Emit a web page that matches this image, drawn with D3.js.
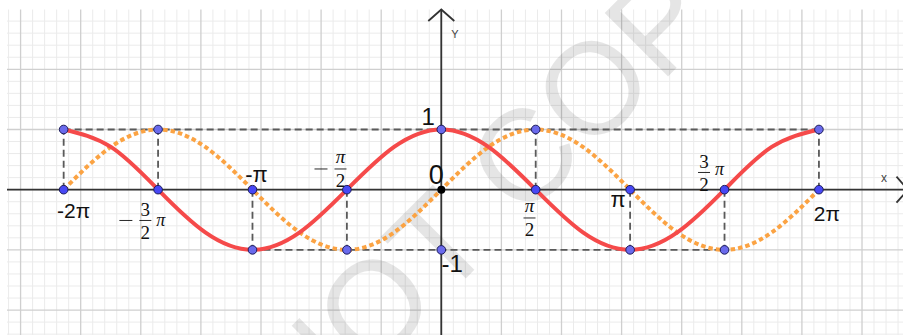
<!DOCTYPE html>
<html><head><meta charset="utf-8">
<script src="https://cdn.jsdelivr.net/npm/d3@7"></script>
<style>body{margin:0;background:#fff;} svg{display:block;}</style>
</head><body>
<svg id="c" width="903" height="335"></svg>
<script>
// ---------- data ----------
// x positions in multiples of pi
const xPi = [-2,-1.75,-1.5,-1.25,-1,-0.75,-0.5,-0.25,0,0.25,0.5,0.75,1,1.25,1.5,1.75,2];
const cosValues = [1,0.71,0,-0.71,-1,-0.71,0,0.71,1,0.71,0,-0.71,-1,-0.71,0,0.71,1];
const sinValues = [0,0.71,1,0.71,0,-0.71,-1,-0.71,0,0.71,1,0.71,0,-0.71,-1,-0.71,0];
// marked points (x in multiples of pi, y)
const markX = [-2,-2,-1.5,-1.5,-1,-1,-0.5,-0.5,0,0,0.5,0.5,1,1,1.5,1.5,2,2];
const markY = [1,0,1,0,0,-1,0,-1,1,-1,1,0,0,-1,0,-1,1,0];
// dashed guides
const guideHy = [1,-1];
const guideHfrom = [-2,-1];
const guideHto = [2,1.5];
const guideVx = [-2,-1.5,-1,-0.5,0.5,1,1.5,2];
const guideVy = [1,1,-1,-1,1,-1,-1,1];
// tick labels
const piLabelX = [-2,-1,1,2];
const piLabelText = ["-2π","-π","π","2π"];
const fracX = [-1.5,-0.5,0.5,1.5];
const fracNeg = [true,true,false,false];
const fracNum = ["3","π","π","3"];
const fracDen = ["2","2","2","2"];
const fracPi = [true,false,false,true];
const yLabelVals = [1,-1];
const yLabelText = ["1","-1"];
const watermarkText = "DO NOT COPY";

(function(){
// ---------- layout ----------
const W = 903, H = 335;
const leftX = 7, topY = 9.5;
const x = d3.scaleLinear().domain([-7.226, 7.682]).range([leftX, W]);
const y = d3.scaleLinear().domain([-2.414, 2.993]).range([H, topY]);
const PI = Math.PI;
const svg = d3.select("#c");
const isMajor = d => Math.abs(d - Math.round(d)) < 1e-6;

// grid
const grid = svg.append("g");
const gx = d3.range(-36, 39).map(i => i * 0.2).filter(v => x(v) >= leftX && x(v) <= W);
const gy = d3.range(-12, 15).map(i => i * 0.2).filter(v => y(v) >= topY - 0.5 && y(v) <= H);
grid.selectAll(".mx").data(gx.filter(d => !isMajor(d))).join("line")
  .attr("x1", d => x(d)).attr("x2", d => x(d)).attr("y1", topY).attr("y2", H)
  .attr("stroke", "#ebebeb").attr("stroke-width", 1);
grid.selectAll(".my").data(gy.filter(d => !isMajor(d))).join("line")
  .attr("y1", d => y(d)).attr("y2", d => y(d)).attr("x1", leftX).attr("x2", W)
  .attr("stroke", "#ebebeb").attr("stroke-width", 1);
grid.selectAll(".Mx").data(gx.filter(isMajor)).join("line")
  .attr("x1", d => x(d)).attr("x2", d => x(d)).attr("y1", topY).attr("y2", H)
  .attr("stroke", "#cfcfcf").attr("stroke-width", 1.3);
grid.selectAll(".My").data(gy.filter(isMajor)).join("line")
  .attr("y1", d => y(d)).attr("y2", d => y(d)).attr("x1", leftX).attr("x2", W)
  .attr("stroke", "#cfcfcf").attr("stroke-width", 1.3);

// watermark
const wmG = svg.append("g");
const wm = wmG.append("text").text(watermarkText)
  .attr("font-family", "Liberation Sans, Arial, sans-serif")
  .attr("font-size", 130).attr("fill", "#000").attr("fill-opacity", 0.1);
try {
  const c4 = wm.node().getExtentOfChar(4), c8 = wm.node().getExtentOfChar(8);
  const d = (c8.x + c8.width/2) - (c4.x + c4.width/2);
  const fs = 130 * 309 / d;
  wm.attr("font-size", fs);
  const e = wm.node().getExtentOfChar(4);
  const cx = e.x + e.width/2, cy = -fs * 0.36;
  const a = -45 * PI / 180;
  const rx = cx*Math.cos(a) - cy*Math.sin(a), ry = cx*Math.sin(a) + cy*Math.cos(a);
  wmG.attr("transform", `translate(${373 - rx},${305 - ry}) rotate(-45)`);
} catch (err) {
  wmG.attr("transform", "translate(240,440) rotate(-45)");
}

// dashed guides
const guides = svg.append("g").attr("stroke", "#5a5a5a").attr("stroke-width", 1.8).attr("stroke-dasharray", "7,4");
guideHy.forEach((v, i) => {
  guides.append("line").attr("x1", x(guideHfrom[i]*PI)).attr("x2", x(guideHto[i]*PI))
    .attr("y1", y(v)).attr("y2", y(v));
});
guideVx.forEach((v, i) => {
  guides.append("line").attr("x1", x(v*PI)).attr("x2", x(v*PI))
    .attr("y1", y(0)).attr("y2", y(guideVy[i]));
});

// axes
const ax = svg.append("g").attr("stroke", "#333").attr("stroke-width", 1.8).attr("fill", "none");
ax.append("line").attr("x1", leftX).attr("x2", W).attr("y1", y(0)).attr("y2", y(0));
ax.append("line").attr("x1", x(0)).attr("x2", x(0)).attr("y1", topY).attr("y2", H);
ax.append("path").attr("d", `M${x(0)-13},${topY+11.5}L${x(0)},${topY}L${x(0)+13},${topY+11.5}`);
ax.append("path").attr("d", `M${W-6.5},${y(0)-13}L${W+5},${y(0)}L${W-6.5},${y(0)+13}`);
const sans = "Liberation Sans, Arial, sans-serif";
svg.append("text").text("Y").attr("x", x(0)+10).attr("y", 38).attr("font-family", sans).attr("font-size", 11).attr("fill", "#444");
svg.append("text").text("x").attr("x", 881).attr("y", 182).attr("font-family", sans).attr("font-size", 12).attr("fill", "#444");

// curves
const pts = (vals) => xPi.map((p, i) => [p, vals[i]]);
const line = d3.line().x(d => x(d[0]*PI)).y(d => y(d[1])).curve(d3.curveNatural);
svg.append("path").attr("d", line(pts(sinValues))).attr("fill", "none")
  .attr("stroke", "#fba343").attr("stroke-width", 4).attr("stroke-dasharray", "4.5,3");
svg.append("path").attr("d", line(pts(cosValues))).attr("fill", "none")
  .attr("stroke", "#f54a4a").attr("stroke-width", 4);

// points
svg.append("g").selectAll("circle").data(markX.map((v, i) => [v, markY[i]])).join("circle")
  .attr("cx", d => x(d[0]*PI)).attr("cy", d => y(d[1])).attr("r", 4.3)
  .attr("fill", d => d[1] === 0 ? "#4747f5" : "#6a6aec").attr("stroke", "#1c1c5a").attr("stroke-width", 1);
svg.append("circle").attr("cx", x(0)).attr("cy", y(0)).attr("r", 4).attr("fill", "#000");

// sans labels
const piDx = [10, 4, -12, 8], piDy = [28, -8, 17, 31], piSize = [21, 22, 22, 21];
piLabelX.forEach((v, i) => {
  svg.append("text").text(piLabelText[i]).attr("x", x(v*PI) + piDx[i]).attr("y", y(0) + piDy[i])
    .attr("text-anchor", "middle").attr("font-family", sans).attr("font-size", piSize[i]).attr("fill", "#111");
});
svg.append("text").text("0").attr("x", x(0) - 5).attr("y", y(0) - 5.5).attr("text-anchor", "middle")
  .attr("font-family", sans).attr("font-size", 27).attr("fill", "#111");
const yDx = [-13, 11], yDy = [-4.5, 22];
yLabelVals.forEach((v, i) => {
  svg.append("text").text(yLabelText[i]).attr("x", x(0) + yDx[i]).attr("y", y(v) + yDy[i])
    .attr("text-anchor", "middle").attr("font-family", sans).attr("font-size", 24).attr("fill", "#111");
});

// fraction labels
const serif = "Liberation Serif, Times New Roman, serif";
const fDx = [-12.7, -6.4, -6.2, -20.5];
const fBar = [30.8, -20.7, 28.3, -17.2];
fracX.forEach((v, i) => {
  const g = svg.append("g").attr("transform", `translate(${x(v*PI) + fDx[i]},${y(0) + fBar[i]})`);
  const isPiNum = fracNum[i] === "π";
  g.append("text").text(fracNum[i]).attr("x", 0).attr("y", isPiNum ? -5.5 : -4.3)
    .attr("text-anchor", "middle").attr("font-family", serif).attr("font-size", 19)
    .attr("font-style", isPiNum ? "italic" : "normal").attr("fill", "#111");
  g.append("line").attr("x1", -6).attr("x2", 6).attr("y1", 0).attr("y2", 0).attr("stroke", "#111").attr("stroke-width", 0.9);
  g.append("text").text(fracDen[i]).attr("x", 0).attr("y", 18.5)
    .attr("text-anchor", "middle").attr("font-family", serif).attr("font-size", 19).attr("fill", "#111");
  if (fracNeg[i]) {
    g.append("line").attr("x1", -26).attr("x2", -13).attr("y1", 0).attr("y2", 0).attr("stroke", "#111").attr("stroke-width", 0.9);
  }
  if (fracPi[i]) {
    g.append("text").text("π").attr("x", 15.5).attr("y", i === 0 ? 5.5 : 2.5)
      .attr("text-anchor", "middle").attr("font-family", serif).attr("font-size", 18)
      .attr("font-style", "italic").attr("fill", "#111");
  }
});
})();
</script>
</body></html>
